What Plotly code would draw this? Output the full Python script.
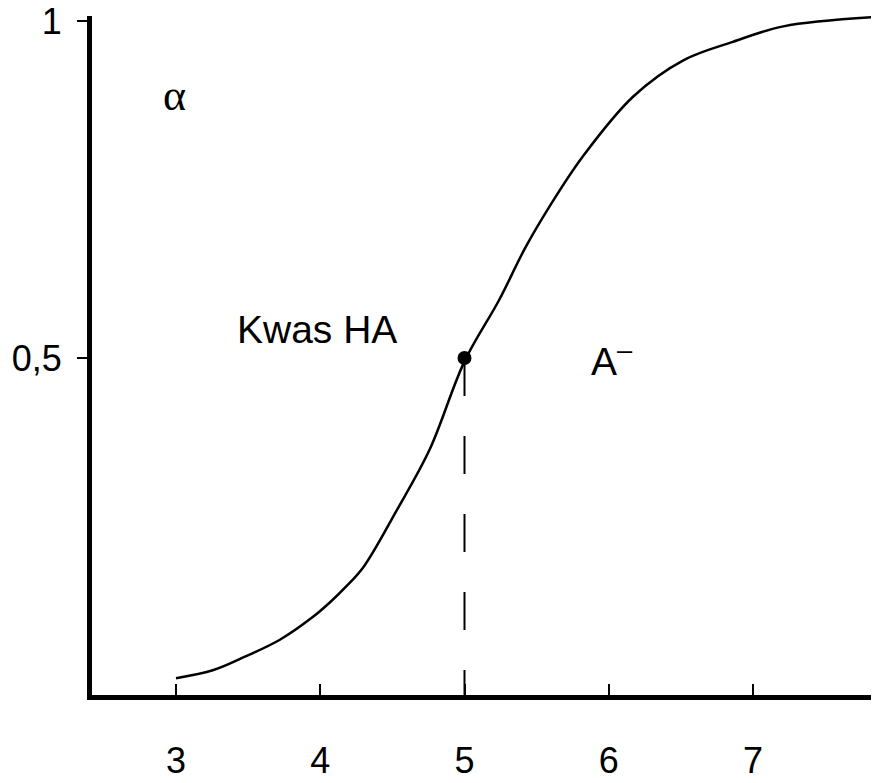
import plotly.graph_objects as go

# Data
pH = [3.0, 3.26, 3.49, 3.72, 3.95, 4.07, 4.18, 4.30, 4.53, 4.76, 5.0,
      5.24, 5.42, 5.59, 5.82, 6.17, 6.52, 6.86, 7.21, 7.86]
alpha = [0.025, 0.037, 0.058, 0.082, 0.116, 0.138, 0.161, 0.19, 0.274, 0.365, 0.495,
         0.586, 0.663, 0.725, 0.799, 0.888, 0.942, 0.969, 0.992, 1.006]
pKa = 5.0
alpha_half = 0.5
x_ticks = [3, 4, 5, 6, 7]
x_ticktext = ["3", "4", "5", "6", "7"]
y_ticks = [0.5, 1.0]
y_ticktext = ["0,5", "1"]

fig = go.Figure()
fig.add_trace(go.Scatter(x=pH, y=alpha, mode="lines",
                         line=dict(color="black", width=2.5, shape="spline", smoothing=1.0),
                         hoverinfo="skip", showlegend=False))
fig.add_trace(go.Scatter(x=[pKa, pKa], y=[alpha_half, 0], mode="lines",
                         line=dict(color="black", width=2, dash="38px,40px"),
                         hoverinfo="skip", showlegend=False))
fig.add_trace(go.Scatter(x=[pKa], y=[alpha_half], mode="markers",
                         marker=dict(color="black", size=14),
                         hoverinfo="skip", showlegend=False))

fig.add_annotation(x=2.99, y=0.89, text="α", showarrow=False,
                   font=dict(family="Liberation Serif", size=44, color="black"))
fig.add_annotation(x=3.98, y=0.543, text="Kwas HA", showarrow=False,
                   font=dict(family="Liberation Sans", size=39, color="black"))
fig.add_annotation(x=6.02, y=0.499, text="A<sup>–</sup>", showarrow=False,
                   font=dict(family="Liberation Sans", size=39, color="black"))

# the page body adds an 8px offset, so the figure is 8px smaller than the window
fig.update_layout(
    width=871, height=775,
    margin=dict(l=84, r=0, t=8, b=88, autoexpand=False),
    paper_bgcolor="white", plot_bgcolor="white",
    font=dict(family="Liberation Sans", color="black"),
)
fig.update_xaxes(range=[2.4177, 7.8735], showgrid=False, zeroline=False, automargin=False,
                 showline=True, linecolor="black", linewidth=5,
                 tickmode="array", tickvals=x_ticks, ticktext=x_ticktext,
                 ticks="inside", ticklen=11, tickwidth=2, tickcolor="black",
                 ticklabelstandoff=30, ticklabeloverflow="allow",
                 tickfont=dict(family="Liberation Sans", size=36, color="black"))
fig.update_yaxes(range=[0, 1.0074], showgrid=False, zeroline=False, automargin=False,
                 showline=True, linecolor="black", linewidth=5,
                 tickmode="array", tickvals=y_ticks, ticktext=y_ticktext,
                 ticks="outside", ticklen=10, tickwidth=2, tickcolor="black",
                 ticklabelstandoff=8, ticklabeloverflow="allow",
                 tickfont=dict(family="Liberation Sans", size=36, color="black"))

fig.write_html("out.html")
